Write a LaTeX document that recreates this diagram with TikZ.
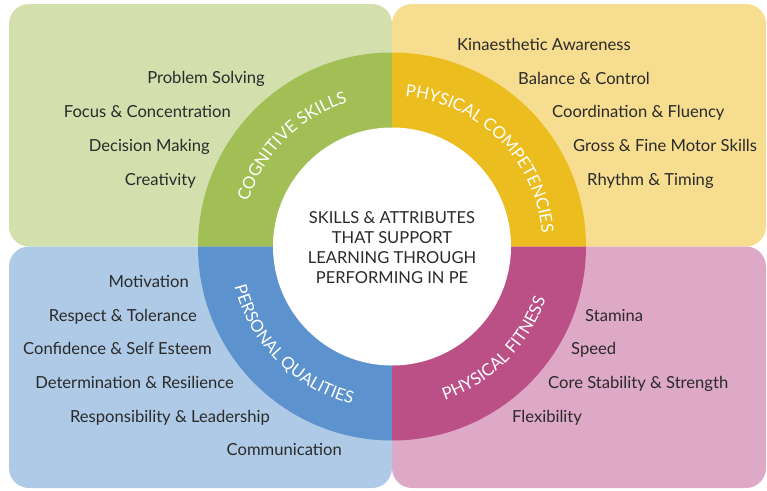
\documentclass[tikz,border=0pt]{standalone}
\usepackage{fontspec}
\setmainfont{Lato}
\usetikzlibrary{decorations.text}
\definecolor{cogD}{HTML}{A2BF55}
\definecolor{cogL}{HTML}{D3E0AE}
\definecolor{phyD}{HTML}{ECBD1F}
\definecolor{phyL}{HTML}{F6DD8F}
\definecolor{perD}{HTML}{5C92CD}
\definecolor{perL}{HTML}{AFCAE6}
\definecolor{fitD}{HTML}{BB5087}
\definecolor{fitL}{HTML}{DEA8C7}
\definecolor{txt}{HTML}{2A2A2A}
\begin{document}
\begin{tikzpicture}[x=1pt,y=1pt,
  item/.style={font=\fontsize{16.6}{19}\selectfont, text=txt, inner sep=0pt},
  itemL/.style={item, anchor=base east},
  itemR/.style={item, anchor=base west},
  box/.style={rounded corners=20pt},
  ringtext/.style={decoration={text along path, text align=center,
     text={|\fontsize{16.8}{19}\selectfont\color{white}|#1}}, decorate}]
\useasboundingbox (0,0) rectangle (767,-490);
% quadrant boxes
\fill[cogL, box] (9,-4) rectangle (392,-246.5);
\fill[phyL, box] (392,-4) rectangle (766,-246.5);
\fill[perL, box] (9,-246.5) rectangle (392,-488);
\fill[fitL, box] (392,-246.5) rectangle (766,-488);
% ring
\begin{scope}[shift={(392,-246.5)}]
  \fill[cogD] (0,0) -- (180:194) arc (180:90:194) -- cycle;
  \fill[phyD] (0,0) -- (90:194) arc (90:0:194) -- cycle;
  \fill[fitD] (0,0) -- (0:194) arc (0:-90:194) -- cycle;
  \fill[perD] (0,0) -- (-90:194) arc (-90:-180:194) -- cycle;
  \fill[white] (0,0) circle[radius=119];
  \path[ringtext={COGNITIVE SKILLS}] (180:150.5) arc (180:90:150.5);
  \path[ringtext={PHYSICAL COMPETENCIES}] (90:150.5) arc (90:0:150.5);
  \path[ringtext={PERSONAL QUALITIES}] (180:162.5) arc (180:270:162.5);
  \path[ringtext={PHYSICAL FITNESS}] (270:162.5) arc (270:360:162.5);
\end{scope}
\node[font=\fontsize{16.5}{20}\selectfont, text=txt, align=center, inner sep=0pt] (centre) at (392,-248)
  {SKILLS \& ATTRIBUTES\\THAT SUPPORT\\LEARNING THROUGH\\PERFORMING IN PE};
% cognitive
\node[itemL] (c1) at (265,-83) {Problem Solving};
\node[itemL] (c2) at (231,-117) {Focus \& Concentration};
\node[itemL] (c3) at (210,-151) {Decision Making};
\node[itemL] (c4) at (196,-185) {Creativity};
% physical competencies
\node[itemR] (p1) at (457,-50) {Kinaesthetic Awareness};
\node[itemR] (p2) at (518,-84) {Balance \& Control};
\node[itemR] (p3) at (552,-117) {Coordination \& Fluency};
\node[itemR] (p4) at (573,-151) {Gross \& Fine Motor Skills};
\node[itemR] (p5) at (587,-185) {Rhythm \& Timing};
% personal qualities
\node[itemL] (q1) at (189,-287) {Motivation};
\node[itemL] (q2) at (197,-321) {Respect \& Tolerance};
\node[itemL] (q3) at (212,-354) {Confidence \& Self Esteem};
\node[itemL] (q4) at (234,-388) {Determination \& Resilience};
\node[itemL] (q5) at (270,-422) {Responsibility \& Leadership};
\node[itemL] (q6) at (342,-455) {Communication};
% physical fitness
\node[itemR] (f1) at (585,-321) {Stamina};
\node[itemR] (f2) at (571,-354) {Speed};
\node[itemR] (f3) at (548,-388) {Core Stability \& Strength};
\node[itemR] (f4) at (512,-422) {Flexibility};
\end{tikzpicture}
\end{document}
